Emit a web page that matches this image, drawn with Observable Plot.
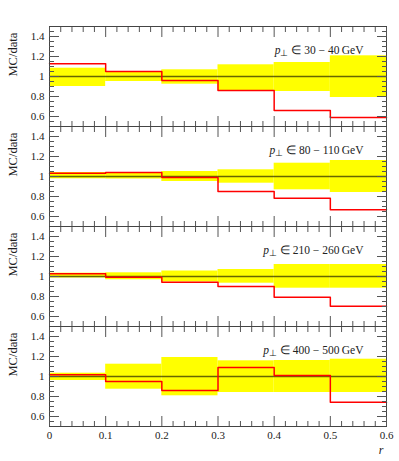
<!DOCTYPE html>
<html><head><meta charset="utf-8">
<script src="https://cdn.jsdelivr.net/npm/d3@7"></script>
<script src="https://cdn.jsdelivr.net/npm/@observablehq/plot@0.6"></script>
<style>
body{margin:0;background:#fff;}
#chart svg{display:block}
#chart svg, #chart svg text, #chart svg tspan{font-family:"Liberation Serif","Times New Roman",serif !important;}
</style>
</head><body><div id="chart"></div>
<script>
// pT ranges (GeV) of the four panels
const panels = ["30 − 40", "80 − 110", "210 − 260", "400 − 500"];
// r bin edges
const binEdges = [0, 0.1, 0.2, 0.3, 0.4, 0.5, 0.6];
// MC/data ratio per bin
const mc30  = [1.127, 1.05, 0.96, 0.86, 0.66, 0.59];
const mc80  = [1.033, 1.04, 0.99, 0.85, 0.783, 0.667];
const mc210 = [1.027, 0.993, 0.943, 0.90, 0.793, 0.703];
const mc400 = [1.017, 0.95, 0.86, 1.09, 1.01, 0.743];
// data uncertainty band (upper / lower)
const hi30  = [1.083, 1.047, 1.067, 1.117, 1.14, 1.207];
const lo30  = [0.90, 0.95, 0.923, 0.86, 0.85, 0.79];
const hi80  = [1.04, 1.037, 1.05, 1.067, 1.133, 1.16];
const lo80  = [0.977, 0.975, 0.95, 0.933, 0.867, 0.84];
const hi210 = [1.033, 1.037, 1.055, 1.07, 1.12, 1.12];
const lo210 = [0.985, 0.967, 0.945, 0.933, 0.883, 0.883];
const hi400 = [1.033, 1.123, 1.19, 1.157, 1.16, 1.173];
const lo400 = [0.96, 0.873, 0.807, 0.84, 0.84, 0.84];
// ticks
const xMajor = [0, 0.1, 0.2, 0.3, 0.4, 0.5, 0.6];
const xMinor = [0.02,0.04,0.06,0.08,0.12,0.14,0.16,0.18,0.22,0.24,0.26,0.28,0.32,0.34,0.36,0.38,0.42,0.44,0.46,0.48,0.52,0.54,0.56,0.58];
const yMajor = [0.6, 0.8, 1, 1.2, 1.4];
const yMinor = [0.55,0.65,0.7,0.75,0.85,0.9,0.95,1.05,1.1,1.15,1.25,1.3,1.35,1.45];

const mcs = [mc30, mc80, mc210, mc400];
const his = [hi30, hi80, hi210, hi400];
const los = [lo30, lo80, lo210, lo400];

const bins = [];
const steps = [];
panels.forEach((p, k) => {
  for (let i = 0; i < 6; i++) {
    bins.push({panel: p, x1: binEdges[i], x2: binEdges[i + 1], lo: los[k][i], hi: his[k][i]});
    steps.push({panel: p, x: binEdges[i], y: mcs[k][i]});
  }
  steps.push({panel: p, x: binEdges[6], y: mcs[k][5]});
});

const tickColor = "#555";
const blank = () => "";
const plain = d => String(d);

const chart = Plot.plot({
  width: 399,
  height: 461,
  marginTop: 24,
  marginBottom: 34,
  marginLeft: 49,
  marginRight: 13,
  style: {fontFamily: "Liberation Serif, serif", fontSize: "11px", background: "#fff"},
  x: {domain: [0, 0.6]},
  y: {domain: [0.5, 1.5]},
  fy: {domain: panels, padding: 0, axis: null},
  marks: [
    Plot.rect(bins, {x1: "x1", x2: "x2", y1: "lo", y2: "hi", fy: "panel", fill: "#ffff00"}),
    Plot.ruleY([1], {stroke: "black", strokeOpacity: 0.6, strokeWidth: 1.5}),
    Plot.line(steps, {x: "x", y: "y", fy: "panel", z: "panel", curve: "step-after", stroke: "#ff0000", strokeWidth: 1.5}),
    Plot.frame({stroke: "#444"}),
    // inward ticks on all four sides of every panel
    Plot.axisX(xMajor, {anchor: "bottom", tickSize: -10, tickFormat: blank, facetAnchor: null, label: null, stroke: tickColor}),
    Plot.axisX(xMinor, {anchor: "bottom", tickSize: -5, tickFormat: blank, facetAnchor: null, label: null, stroke: tickColor}),
    Plot.axisX(xMajor, {anchor: "top", tickSize: -10, tickFormat: blank, facetAnchor: null, label: null, stroke: tickColor}),
    Plot.axisX(xMinor, {anchor: "top", tickSize: -5, tickFormat: blank, facetAnchor: null, label: null, stroke: tickColor}),
    Plot.axisY(yMajor, {anchor: "left", tickSize: -10, tickFormat: blank, facetAnchor: null, label: null, stroke: tickColor}),
    Plot.axisY(yMinor, {anchor: "left", tickSize: -5, tickFormat: blank, facetAnchor: null, label: null, stroke: tickColor}),
    Plot.axisY(yMajor, {anchor: "right", tickSize: -10, tickFormat: blank, facetAnchor: null, label: null, stroke: tickColor}),
    Plot.axisY(yMinor, {anchor: "right", tickSize: -5, tickFormat: blank, facetAnchor: null, label: null, stroke: tickColor}),
    // tick labels
    Plot.axisY(yMajor, {anchor: "left", tickSize: 0, tickPadding: 5, tickFormat: plain, facetAnchor: null, label: null, fill: "#222"}),
    Plot.axisX(xMajor, {anchor: "bottom", tickSize: 0, tickPadding: 5, tickFormat: plain, label: null, fill: "#222"}),
    Plot.text(["MC/data"], {frameAnchor: "left", rotate: -90, dx: -37, text: d => d, fontSize: 12.5, fill: "#222"}),
    Plot.text([panels[3]], {fy: d => d, frameAnchor: "bottom-right", dx: -3, dy: 27, text: () => "r", fontStyle: "italic", fontSize: 12, fill: "#222"}),
    Plot.text(panels, {fy: d => d, frameAnchor: "top-right", dx: -23, dy: 19, textAnchor: "end", text: d => `p⊥ ∈ ${d} GeV`, fontSize: 11.5, fill: "#222"})
  ]
});

// typeset the panel labels: italic p with subscript ⊥
chart.querySelectorAll("text").forEach(t => {
  const s = t.textContent;
  if (s.startsWith("p⊥")) {
    const rest = s.slice(2);
    t.textContent = "";
    const ns = "http://www.w3.org/2000/svg";
    const a = document.createElementNS(ns, "tspan");
    a.setAttribute("font-style", "italic"); a.textContent = "p";
    const b = document.createElementNS(ns, "tspan");
    b.setAttribute("dy", "2"); b.setAttribute("font-size", "9"); b.textContent = "⊥";
    const c = document.createElementNS(ns, "tspan");
    c.setAttribute("dy", "-2"); c.textContent = rest.replace(" GeV", "\u2009GeV");
    t.append(a, b, c);
  }
});

document.getElementById("chart").append(chart);
</script>
</body></html>
